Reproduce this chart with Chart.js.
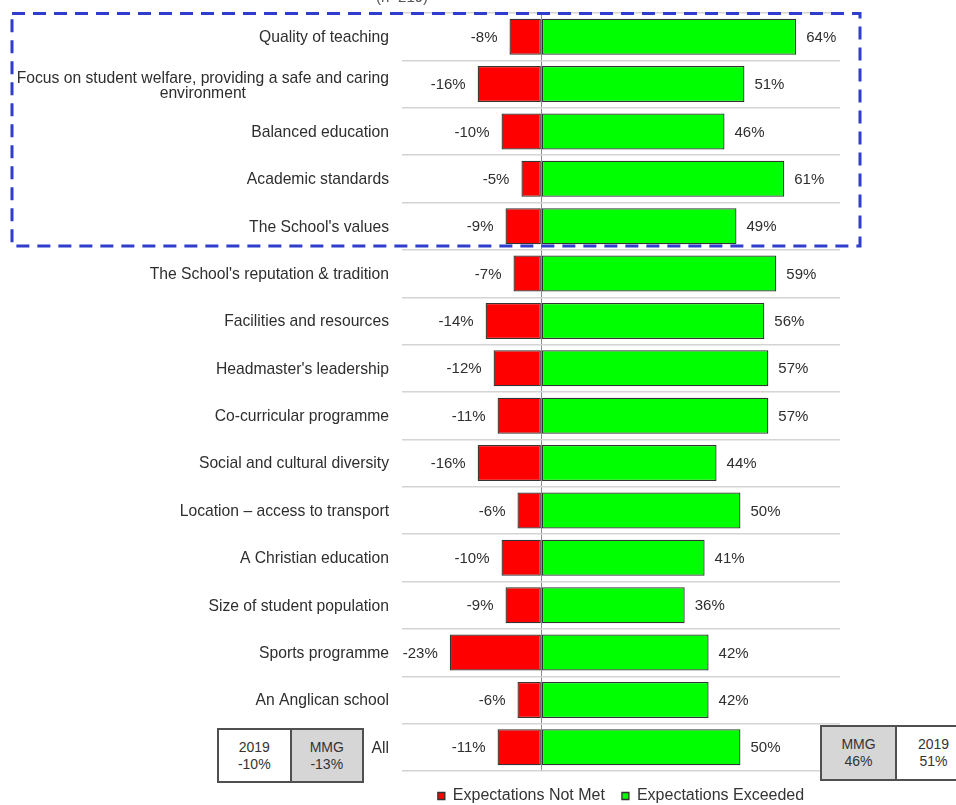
<!DOCTYPE html>
<html>
<head>
<meta charset="utf-8">
<script src="https://cdn.jsdelivr.net/npm/chart.js@4.4.0/dist/chart.umd.min.js"></script>
<style>
  html, body { margin: 0; padding: 0; background: #fff; }
  #wrap { position: relative; width: 956px; height: 805px; overflow: hidden; font-family: "Liberation Sans", Arial, sans-serif; color: #333; }
  #chart { position: absolute; left: 0; top: 0; }
  #sample { position: absolute; left: 376px; top: -12px; font-size: 15px; color: #555; }
  .cmp { position: absolute; display: flex; border: 2px solid #505050; box-sizing: border-box; background: #fff; }
  .cmp div { flex: 1; display: flex; align-items: center; justify-content: center; text-align: center; font-size: 14px; line-height: 17px; color: #333; }
  .cmp div + div { border-left: 2px solid #505050; }
  .cmp .grey { background: #d6d6d6; }
</style>
</head>
<body>
<div id="wrap">
  <canvas id="chart" width="956" height="805"></canvas>
  <div id="sample">(n=219)</div>
  <div class="cmp" style="left:217px; top:728px; width:147px; height:55px;">
    <div>2019<br>-10%</div>
    <div class="grey">MMG<br>-13%</div>
  </div>
  <div class="cmp" style="left:820px; top:725px; width:152px; height:56px;">
    <div class="grey">MMG<br>46%</div>
    <div>2019<br>51%</div>
  </div>
</div>
<script>
const categories = [
  'Quality of teaching',
  ['Focus on student welfare, providing a safe and caring', 'environment'],
  'Balanced education',
  'Academic standards',
  "The School's values",
  "The School's reputation & tradition",
  'Facilities and resources',
  "Headmaster's leadership",
  'Co-curricular programme',
  'Social and cultural diversity',
  'Location \u2013 access to transport',
  'A Christian education',
  'Size of student population',
  'Sports programme',
  'An Anglican school',
  'All'
];
const notMet = [-8, -16, -10, -5, -9, -7, -14, -12, -11, -16, -6, -10, -9, -23, -6, -11];
const exceeded = [64, 51, 46, 61, 49, 59, 56, 57, 57, 44, 50, 41, 36, 42, 42, 50];
const seriesNames = ['Expectations Not Met', 'Expectations Exceeded'];
const xMin = -35;
const xMax = 75;

const FONT = '"Liberation Sans", Arial, sans-serif';

// category names on the left, centred when wrapped
const categoryLabels = {
  id: 'categoryLabels',
  afterDraw(chart) {
    const ctx = chart.ctx;
    const yScale = chart.scales.y;
    const right = chart.chartArea.left - 13;
    ctx.save();
    ctx.font = '15.7px ' + FONT;
    ctx.fillStyle = '#2e2e2e';
    ctx.textBaseline = 'middle';
    categories.forEach((label, i) => {
      const y = yScale.getPixelForValue(i) + 1;
      if (Array.isArray(label)) {
        const w = Math.max(...label.map(l => ctx.measureText(l).width));
        ctx.textAlign = 'center';
        label.forEach((line, j) => {
          ctx.fillText(line, right - w / 2, y - 6 + j * 15);
        });
      } else {
        ctx.textAlign = 'right';
        ctx.fillText(label, right, y);
      }
    });
    ctx.restore();
  }
};

// percentages at the end of each bar
const valueLabels = {
  id: 'valueLabels',
  afterDatasetsDraw(chart) {
    const ctx = chart.ctx;
    ctx.save();
    ctx.font = '15px ' + FONT;
    ctx.fillStyle = '#2e2e2e';
    ctx.textBaseline = 'middle';
    chart.data.datasets.forEach((ds, di) => {
      chart.getDatasetMeta(di).data.forEach((bar, i) => {
        const v = ds.data[i];
        if (v < 0) {
          ctx.textAlign = 'right';
          ctx.fillText(v + '%', bar.x - 12, bar.y + 1);
        } else {
          ctx.textAlign = 'left';
          ctx.fillText(v + '%', bar.x + 10, bar.y + 1);
        }
      });
    });
    ctx.restore();
  }
};

// dashed highlight round the first five items
const highlightBox = {
  id: 'highlightBox',
  afterDraw(chart) {
    const ctx = chart.ctx;
    const yScale = chart.scales.y;
    const step = yScale.getPixelForValue(1) - yScale.getPixelForValue(0);
    const top = yScale.getPixelForValue(0) - step / 2 + 0.5;
    const bottom = yScale.getPixelForValue(4) + step / 2 - 4;
    ctx.save();
    ctx.strokeStyle = '#2f3dcc';
    ctx.lineWidth = 3;
    ctx.setLineDash([13, 8]);
    ctx.strokeRect(12, top, 848, bottom - top);
    ctx.restore();
  }
};

const ctx = document.getElementById('chart').getContext('2d');
new Chart(ctx, {
  type: 'bar',
  data: {
    labels: categories,
    datasets: [
      {
        label: seriesNames[0],
        data: notMet,
        backgroundColor: '#ff0000',
        borderColor: '#333333',
        borderWidth: 1.3,
        borderSkipped: false
      },
      {
        label: seriesNames[1],
        data: exceeded,
        backgroundColor: '#00ff00',
        borderColor: '#333333',
        borderWidth: 1.3,
        borderSkipped: false
      }
    ]
  },
  options: {
    indexAxis: 'y',
    responsive: false,
    animation: false,
    layout: { padding: { left: 402, right: 116, top: 13, bottom: 0 } },
    datasets: { bar: { barPercentage: 0.76, categoryPercentage: 1 } },
    scales: {
      x: {
        stacked: true,
        min: xMin,
        max: xMax,
        ticks: { display: false, stepSize: 5 },
        grid: {
          drawTicks: false,
          lineWidth: 1,
          color: c => (c.tick && c.tick.value === 0 ? '#8c8c8c' : 'rgba(0,0,0,0)')
        },
        border: { display: false }
      },
      y: {
        stacked: true,
        ticks: { display: false },
        grid: { drawTicks: false, color: '#d4d4d4', lineWidth: 1.5 },
        border: { display: false }
      }
    },
    plugins: {
      legend: {
        position: 'bottom',
        fullSize: false,
        maxHeight: 34,
        labels: {
          boxWidth: 7,
          boxHeight: 7,
          padding: 17,
          color: '#333',
          font: { size: 16, family: FONT }
        }
      },
      tooltip: { enabled: false }
    }
  },
  plugins: [categoryLabels, valueLabels, highlightBox]
});
</script>
</body>
</html>
